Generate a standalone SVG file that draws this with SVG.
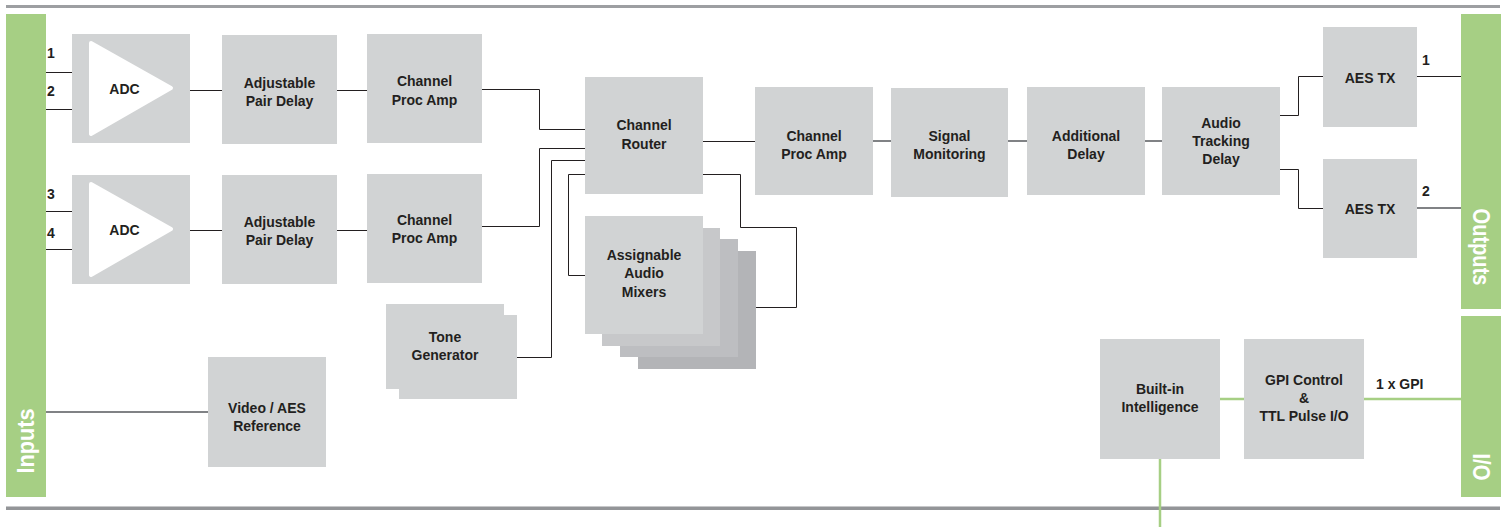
<svg xmlns="http://www.w3.org/2000/svg" width="1507" height="527" viewBox="0 0 1507 527">
<style>
.box{fill:#d1d3d4}
.t{font-family:"Liberation Sans",Arial,sans-serif;font-weight:bold;font-size:14px;fill:#231f20;text-anchor:middle}
.n{font-family:"Liberation Sans",Arial,sans-serif;font-weight:bold;font-size:14px;fill:#231f20}
.bar{fill:#a6cf84}
.bt{font-family:"Liberation Sans",Arial,sans-serif;font-weight:bold;font-size:24px;fill:#ffffff;text-anchor:middle}
.c{fill:none;stroke:#231f20;stroke-width:1}
.cg{fill:none;stroke:#808285;stroke-width:2}
.gr{fill:none;stroke:#a6cf84;stroke-width:2.5}
.tri{fill:#ffffff;stroke:#ffffff;stroke-width:4;stroke-linejoin:round}
</style>
<rect x="6" y="5" width="1494" height="3" fill="#9d9fa2"/>
<rect x="6" y="506" width="1494" height="1" fill="#c7c8ca"/>
<rect x="6" y="507" width="1494" height="3" fill="#939598"/>

<g id="inputs"><rect class="bar" x="6" y="14" width="40" height="483"/><text class="bt" transform="translate(34,441) rotate(-90)" textLength="65" lengthAdjust="spacingAndGlyphs">Inputs</text></g>
<g id="outputs"><rect class="bar" x="1461" y="14" width="40" height="295"/><text class="bt" transform="translate(1473,247) rotate(90)" textLength="77" lengthAdjust="spacingAndGlyphs">Outputs</text></g>
<g id="io"><rect class="bar" x="1461" y="316" width="40" height="181"/><text class="bt" transform="translate(1473,467) rotate(90)" textLength="27" lengthAdjust="spacingAndGlyphs">I/O</text></g>

<g id="connectors">
<path class="c" d="M46 72.5H72M46 109.5H72M46 211.5H72M46 249.5H72"/>
<path class="c" d="M190 90.5H222M190 230.5H222M337 90.5H367M337 230.5H367"/>
<path class="c" d="M482 89.5H539.5V129.5H585M482 226.5H539.5V148.5H585"/>
<path class="c" d="M585 160.5H551.5V357.5H517M585 174.5H568.5V275.5H585"/>
<path class="c" d="M703 141.5H755M703 174.5H740.5V227.5H796.5V307.5H756"/>
<path class="cg" d="M873 141H891M1008 141H1027M1145 141H1162"/>
<path class="c" d="M1280 115.5H1298.5V76.5H1323M1280 169.5H1298.5V208.5H1323"/>
<path class="c" d="M1417 76.5H1461"/>
<path class="cg" d="M1417 208H1461"/>
<path class="cg" d="M46 412H208" stroke-width="1.5"/>
<path class="gr" d="M1220 399H1244M1364 399H1461M1160 459V527"/>
</g>

<g id="adc1"><rect class="box" x="72" y="34" width="118" height="109"/><polygon class="tri" points="91,43 171,88 91,134"/><text class="t" x="124.5" y="94">ADC</text></g>
<g id="adc2"><rect class="box" x="72" y="175" width="118" height="109"/><polygon class="tri" points="91,184 171,229 91,275"/><text class="t" x="124.5" y="235">ADC</text></g>
<g id="apd1"><rect class="box" x="222" y="35" width="115" height="109"/><text class="t" x="279.5" y="88">Adjustable<tspan x="279.5" y="106">Pair Delay</tspan></text></g>
<g id="apd2"><rect class="box" x="222" y="175" width="115" height="109"/><text class="t" x="279.5" y="227">Adjustable<tspan x="279.5" y="245">Pair Delay</tspan></text></g>
<g id="cpa1"><rect class="box" x="367" y="34" width="115" height="109"/><text class="t" x="424.5" y="86">Channel<tspan x="424.5" y="105">Proc Amp</tspan></text></g>
<g id="cpa2"><rect class="box" x="367" y="174" width="115" height="109"/><text class="t" x="424.5" y="225">Channel<tspan x="424.5" y="243">Proc Amp</tspan></text></g>
<g id="router"><rect class="box" x="585" y="77" width="118" height="117"/><text class="t" x="644" y="130">Channel<tspan x="644" y="149">Router</tspan></text></g>
<g id="mixers">
<rect x="638" y="251" width="118" height="118" fill="#b3b4b7"/>
<rect x="620" y="239" width="118" height="118" fill="#bdbec1"/>
<rect x="602" y="228" width="118" height="118" fill="#c7c8ca"/>
<rect class="box" x="585" y="216" width="118" height="118"/>
<text class="t" x="644" y="260">Assignable<tspan x="644" y="278">Audio</tspan><tspan x="644" y="297">Mixers</tspan></text></g>
<g id="tone">
<rect class="box" x="399" y="315" width="118" height="84"/>
<rect class="box" x="386" y="304" width="118" height="85" stroke="#e6e7e8" stroke-width="0"/>
<text class="t" x="445" y="342">Tone<tspan x="445" y="360">Generator</tspan></text></g>
<g id="videoref"><rect class="box" x="208" y="357" width="118" height="110"/><text class="t" x="267" y="413">Video / AES<tspan x="267" y="431">Reference</tspan></text></g>
<g id="cpa3"><rect class="box" x="755" y="87" width="118" height="108"/><text class="t" x="814" y="141">Channel<tspan x="814" y="159">Proc Amp</tspan></text></g>
<g id="sigmon"><rect class="box" x="891" y="88" width="117" height="109"/><text class="t" x="949.5" y="141">Signal<tspan x="949.5" y="159">Monitoring</tspan></text></g>
<g id="adddelay"><rect class="box" x="1027" y="87" width="118" height="108"/><text class="t" x="1086" y="141">Additional<tspan x="1086" y="159">Delay</tspan></text></g>
<g id="atd"><rect class="box" x="1162" y="87" width="118" height="108"/><text class="t" x="1221" y="128">Audio<tspan x="1221" y="146">Tracking</tspan><tspan x="1221" y="164">Delay</tspan></text></g>
<g id="aestx1"><rect class="box" x="1323" y="27" width="94" height="100"/><text class="t" x="1370" y="83">AES TX</text></g>
<g id="aestx2"><rect class="box" x="1323" y="159" width="94" height="99"/><text class="t" x="1370" y="214">AES TX</text></g>
<g id="builtin"><rect class="box" x="1100" y="339" width="120" height="120"/><text class="t" x="1160" y="394">Built-in<tspan x="1160" y="412">Intelligence</tspan></text></g>
<g id="gpi"><rect class="box" x="1244" y="339" width="120" height="120"/><text class="t" x="1304" y="385">GPI Control<tspan x="1304" y="403">&amp;</tspan><tspan x="1304" y="421">TTL Pulse I/O</tspan></text></g>

<g id="labels">
<text class="n" x="47" y="58">1</text>
<text class="n" x="47" y="96">2</text>
<text class="n" x="47" y="199">3</text>
<text class="n" x="47" y="238">4</text>
<text class="n" x="1422" y="65">1</text>
<text class="n" x="1422" y="196">2</text>
<text class="n" x="1376" y="389">1 x GPI</text>
</g>
</svg>
